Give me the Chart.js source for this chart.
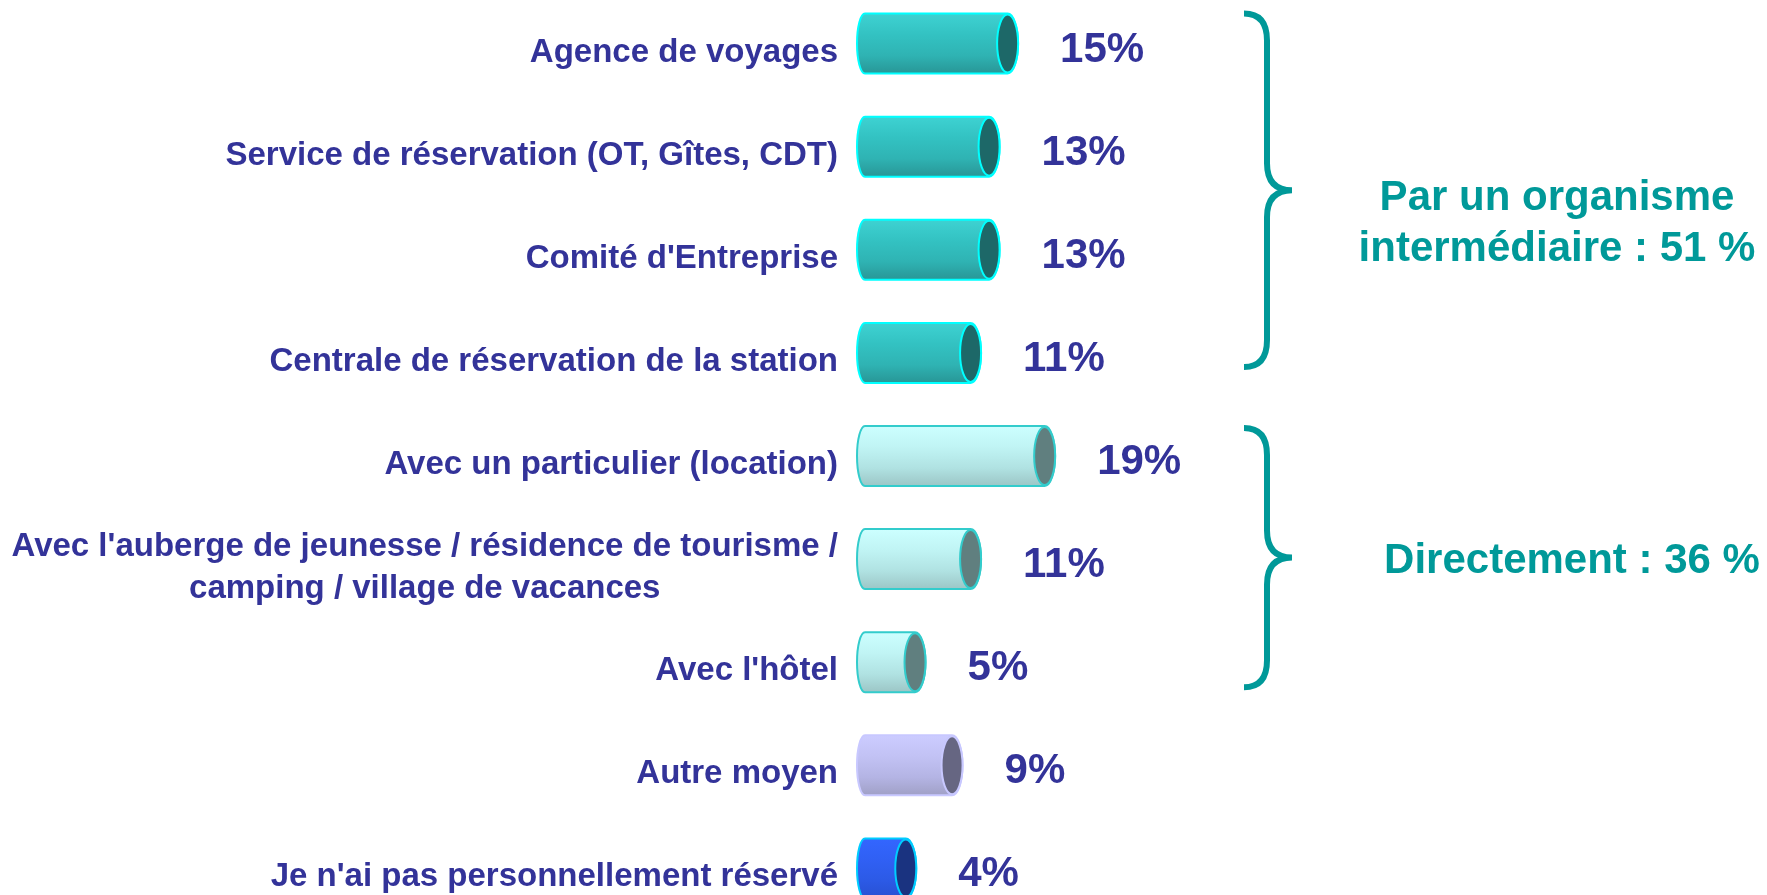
<!DOCTYPE html>
<html>
<head>
<meta charset="utf-8">
<script src="https://cdn.jsdelivr.net/npm/chart.js@4/dist/chart.umd.min.js"></script>
<style>
  html, body { margin: 0; padding: 0; background: #ffffff; overflow: hidden; width: 1767px; height: 895px; }
  #wrap { position: absolute; left: 0; top: -8px; width: 1767px; height: 928px; }
</style>
</head>
<body>
<div id="wrap"><canvas id="c" width="1767" height="928"></canvas></div>
<script>
// ---- data ----
const categories = [
  "Agence de voyages",
  "Service de réservation (OT, Gîtes, CDT)",
  "Comité d'Entreprise",
  "Centrale de réservation de la station",
  "Avec un particulier (location)",
  ["Avec l'auberge de jeunesse / résidence de tourisme /", "camping / village de vacances"],
  "Avec l'hôtel",
  "Autre moyen",
  "Je n'ai pas personnellement réservé"
];
const values = [15, 13, 13, 11, 19, 11, 5, 9, 4];
const groupOf = ["inter", "inter", "inter", "inter", "direct", "direct", "direct", "autre", "perso"];
const groupTexts = {
  inter: ["Par un organisme", "intermédiaire : 51 %"],
  direct: ["Directement : 36 %"]
};

// ---- styles ----
const palette = {
  inter:  { stops: ["#3ed2d2", "#33c2c2", "#2fb3b3", "#289696"], edge: "#00ffff", cap: "#1d6868" },
  direct: { stops: ["#ccffff", "#c0f4f4", "#b0e2e2", "#9cc6c6"], edge: "#33cccc", cap: "#607f7f" },
  autre:  { stops: ["#ccccff", "#c2c2f4", "#b4b4e4", "#a0a0c6"], edge: "#c8c8ff", cap: "#666682" },
  perso:  { stops: ["#3366ff", "#3060f4", "#2c5ae6", "#2850d2"], edge: "#00ccff", cap: "#1a3380" }
};
const textBlue = "#333399";
const teal = "#009999";
const FONT = '"Liberation Sans", Arial, Helvetica, sans-serif';

const cylinderPlugin = {
  id: "cylinders",
  afterDatasetsDraw(chart) {
    const ctx = chart.ctx;
    const meta = chart.getDatasetMeta(0);
    const yScale = chart.scales.y;
    ctx.save();
    meta.data.forEach((bar, i) => {
      const p = bar.getProps(["x", "y", "base", "height"], true);
      const L = p.base, R = p.x, h = p.height;
      const top = p.y - h / 2, bot = p.y + h / 2, ry = h / 2;
      const rx = 10.5, rxl = 8;
      const st = palette[groupOf[i]];
      const g = ctx.createLinearGradient(0, top, 0, bot);
      g.addColorStop(0, st.stops[0]);
      g.addColorStop(0.35, st.stops[1]);
      g.addColorStop(0.7, st.stops[2]);
      g.addColorStop(1, st.stops[3]);
      // body
      ctx.beginPath();
      ctx.moveTo(L + rxl, top);
      ctx.lineTo(R - rx, top);
      ctx.ellipse(R - rx, p.y, rx, ry, 0, -Math.PI / 2, Math.PI / 2, false);
      ctx.lineTo(L + rxl, bot);
      ctx.ellipse(L + rxl, p.y, rxl, ry, 0, Math.PI / 2, Math.PI * 1.5, false);
      ctx.closePath();
      ctx.fillStyle = g;
      ctx.fill();
      ctx.lineWidth = 2;
      ctx.strokeStyle = st.edge;
      ctx.stroke();
      // end cap
      ctx.beginPath();
      ctx.ellipse(R - rx, p.y, rx, ry - 1, 0, 0, Math.PI * 2);
      ctx.fillStyle = st.cap;
      ctx.fill();
      ctx.lineWidth = 2;
      ctx.strokeStyle = st.edge;
      ctx.stroke();
      // value label
      ctx.fillStyle = textBlue;
      ctx.font = "bold 42px " + FONT;
      ctx.textAlign = "left";
      ctx.textBaseline = "alphabetic";
      ctx.fillText(values[i] + "%", R + 42, p.y + 18);
    });

    // category labels
    ctx.font = "bold 33px " + FONT;
    ctx.fillStyle = textBlue;
    ctx.textBaseline = "alphabetic";
    const rightEdge = chart.chartArea.left - 19;
    categories.forEach((lab, i) => {
      const yc = yScale.getPixelForTick(i);
      const lines = Array.isArray(lab) ? lab : [lab];
      const n = lines.length;
      const w = Math.max(...lines.map(l => ctx.measureText(l).width));
      lines.forEach((ln, k) => {
        const by = yc + 18 + (k - (n - 1) / 2) * 42;
        if (n > 1) {
          ctx.textAlign = "center";
          ctx.fillText(ln, rightEdge - w / 2, by);
        } else {
          ctx.textAlign = "right";
          ctx.fillText(ln, rightEdge, by);
        }
      });
    });

    // braces and group texts
    const drawBrace = (top, bot) => {
      const xl = 1244, xv = 1267, xp = 1292, r = 27;
      const mid = (top + bot) / 2;
      ctx.beginPath();
      ctx.moveTo(xl, top);
      ctx.quadraticCurveTo(xv, top, xv, top + r);
      ctx.lineTo(xv, mid - r);
      ctx.quadraticCurveTo(xv, mid, xp, mid);
      ctx.quadraticCurveTo(xv, mid, xv, mid + r);
      ctx.lineTo(xv, bot - r);
      ctx.quadraticCurveTo(xv, bot, xl, bot);
      ctx.strokeStyle = teal;
      ctx.lineWidth = 6;
      ctx.lineCap = "butt";
      ctx.stroke();
      return mid;
    };
    const b1top = yScale.getPixelForTick(0) - 30;
    const b1bot = yScale.getPixelForTick(3) + 14;
    const b2top = yScale.getPixelForTick(4) - 28;
    const b2bot = yScale.getPixelForTick(6) + 25;
    const m1 = drawBrace(b1top, b1bot);
    const m2 = drawBrace(b2top, b2bot);

    ctx.font = "bold 42px " + FONT;
    ctx.fillStyle = teal;
    ctx.textAlign = "center";
    ctx.fillText(groupTexts.inter[0], 1557, m1 + 20);
    ctx.fillText(groupTexts.inter[1], 1557, m1 + 71);
    ctx.fillText(groupTexts.direct[0], 1572, m2 + 15);
    ctx.restore();
  }
};

new Chart(document.getElementById("c"), {
  type: "bar",
  data: {
    labels: categories,
    datasets: [{
      data: values,
      base: -2.4,
      backgroundColor: "rgba(0,0,0,0)",
      borderWidth: 0,
      barThickness: 60
    }]
  },
  options: {
    indexAxis: "y",
    responsive: false,
    animation: false,
    layout: { padding: { left: 857, right: 610, top: 0, bottom: 0 } },
    plugins: { legend: { display: false }, tooltip: { enabled: false } },
    scales: {
      x: { display: false, min: -2.4, max: 30 },
      y: { display: false, offset: true }
    }
  },
  plugins: [cylinderPlugin]
});
</script>
</body>
</html>
